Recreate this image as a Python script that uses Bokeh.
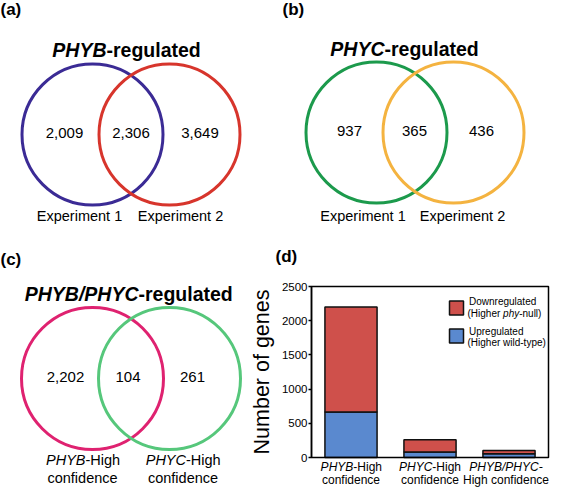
from bokeh.plotting import figure
from bokeh.models import Range1d, LinearAxis, FixedTicker, ColumnDataSource
from bokeh.core.properties import value
from bokeh.embed import file_html
from bokeh.resources import INLINE

FONT = "Liberation Sans"

# ---------------- data ----------------
venn_a_title = ["PHYB", "-regulated"]
venn_a_sets = ["Experiment 1", "Experiment 2"]
venn_a_counts = [2009, 2306, 3649]

venn_b_title = ["PHYC", "-regulated"]
venn_b_sets = ["Experiment 1", "Experiment 2"]
venn_b_counts = [937, 365, 436]

venn_c_title = ["PHYB/PHYC", "-regulated"]
venn_c_sets_gene = ["PHYB", "PHYC"]
venn_c_sets_rest = ["-High", "-High"]
venn_c_sets_line2 = ["confidence", "confidence"]
venn_c_counts = [2202, 104, 261]

bar_cat_gene = ["PHYB", "PHYC", "PHYB/PHYC-"]
bar_cat_rest = ["-High", "-High", ""]
bar_cat_line2 = ["confidence", "confidence", "High confidence"]
bar_up = [665, 80, 55]
bar_down = [1537, 181, 49]
y_ticks = [0, 500, 1000, 1500, 2000, 2500]
legend_line1 = ["Downregulated", "Upregulated"]
legend_line2 = [["(Higher ", "phy", "-null)"], ["(Higher wild-type)", "", ""]]

RED = "#cf504b"
BLUE = "#5a89cf"

# ---------------- canvas (picture pixel coordinates) ----------------
W, H = 550, 487
p = figure(width=W, height=H,
           x_range=Range1d(0, W), y_range=Range1d(H, 0),
           output_backend="svg", toolbar_location=None, title=None,
           x_axis_type=None, y_axis_type=None,
           min_border=0, outline_line_color=None)
p.grid.visible = False


def txt(x, y, s, size, style="normal", align="center", baseline="middle", **kw):
    p.text(x=[x], y=[y], text=[s], text_font=value(FONT), text_font_size=size,
           text_font_style=style, text_align=align, text_baseline=baseline,
           text_color="black", **kw)


def venn(cx, cy, r, colors, counts, title, split_x, title_y, num_dx):
    p.circle(x=[cx, cx + 77], y=[cy, cy], radius=r, fill_color=None,
             line_color=colors, line_width=3)
    for dxo, c in zip(num_dx, counts):
        txt(cx + dxo, cy - 2, f"{c:,}", "15px")
    txt(split_x, title_y, title[0], "19.5px", "bold italic", "right", "alphabetic")
    txt(split_x, title_y, title[1], "19.5px", "bold", "left", "alphabetic")


# ---- (a)
venn(92, 134, 70.5, ["#3b2b95", "#d7352c"], venn_a_counts, venn_a_title, 106, 49, [-28, 38.5, 107.5])
txt(79, 215, venn_a_sets[0], "14.5px")
txt(180, 215, venn_a_sets[1], "14.5px")
txt(0, -1, "(a)", "17px", "bold", "left", "top")

# ---- (b)
venn(376, 132, 70.5, ["#1c9a4c", "#f4b340"], venn_b_counts, venn_b_title, 384, 48, [-27, 38, 105])
txt(362.5, 215, venn_b_sets[0], "14.5px")
txt(462, 215, venn_b_sets[1], "14.5px")
txt(282, -1, "(b)", "17px", "bold", "left", "top")

# ---- (c)
venn(92, 378, 71, ["#df2270", "#56c77b"], venn_c_counts, venn_c_title, 138, 293, [-27, 35.5, 100])
for cxl, g, rest, l2 in zip([82, 182.5], venn_c_sets_gene, venn_c_sets_rest, venn_c_sets_line2):
    txt(cxl + 3, 459, g, "14.5px", "italic", "right")
    txt(cxl + 3, 459, rest, "14.5px", "normal", "left")
    txt(cxl, 477, l2, "14.5px")
txt(0, 249, "(c)", "17px", "bold", "left", "top")

# ---- (d) bar chart with its own scales
FX0, FX1, FY0, FY1 = 311, 548, 286, 457
ymax = y_ticks[-1]
ncat = len(bar_up)
kx = ncat / (FX1 - FX0)
ky = ymax / (FY1 - FY0)
p.extra_x_ranges = {"bx": Range1d((0 - FX0) * kx, (W - FX0) * kx)}
p.extra_y_ranges = {"by": Range1d(-(H - FY1) * ky, (FY1 - 0) * ky)}

xs = [i + 0.5 for i in range(ncat)]
src = ColumnDataSource(dict(x=xs, up=bar_up,
                            total=[u + d for u, d in zip(bar_up, bar_down)]))
p.vbar(x="x", bottom=0, top="up", width=0.66, source=src,
       fill_color=BLUE, line_color="#111111", line_width=1.5,
       x_range_name="bx", y_range_name="by")
p.vbar(x="x", bottom="up", top="total", width=0.66, source=src,
       fill_color=RED, line_color="#111111", line_width=1.5,
       x_range_name="bx", y_range_name="by")
# plot box
p.quad(left=[0], right=[ncat], bottom=[0], top=[ymax], fill_color=None,
       line_color="black", line_width=1.5, x_range_name="bx", y_range_name="by")

ax = LinearAxis(x_range_name="bx", y_range_name="by", fixed_location=0,
                bounds=(0, ymax), ticker=FixedTicker(ticks=y_ticks))
ax.minor_tick_line_color = None
ax.major_tick_in = 0
ax.major_tick_out = 3
ax.major_tick_line_width = 1.5
ax.axis_line_width = 1.5
ax.major_label_standoff = 1
ax.major_label_text_font = FONT
ax.major_label_text_font_size = "11.5px"
ax.major_label_text_color = "black"
ax.axis_label = "Number of genes"
ax.axis_label_text_font = FONT
ax.axis_label_text_font_size = "21.5px"
ax.axis_label_text_font_style = "normal"
ax.axis_label_text_color = "black"
ax.axis_label_standoff = 5
p.add_layout(ax, "left")

# legend
p.rect(x=[456, 456], y=[307.5, 335.5], width=14, height=14,
       width_units="screen", height_units="screen",
       fill_color=[RED, BLUE], line_color="#111111", line_width=1.5)
for ly, l1, l2 in zip([301, 330.5], legend_line1, legend_line2):
    txt(468.5, ly, l1, "10px", align="left")
    txt(467, ly + 11.5, l2[0], "10px", align="left")
    if l2[1]:
        txt(502.6, ly + 11.5, l2[1], "10px", "italic", align="left")
        txt(518.7, ly + 11.5, l2[2], "10px", align="left")

# category labels
for i, (g, rest, l2) in enumerate(zip(bar_cat_gene, bar_cat_rest, bar_cat_line2)):
    xoff = -3 if i == ncat - 1 else 0
    if rest:
        txt(xs[i], 466.5, g, "12px", "italic", "right", x_offset=2.3, x_range_name="bx")
        txt(xs[i], 466.5, rest, "12px", "normal", "left", x_offset=2.3, x_range_name="bx")
    else:
        txt(xs[i], 466.5, g, "12px", "italic", "center", x_offset=xoff, x_range_name="bx")
    txt(xs[i], 479.5, l2, "12px", x_offset=xoff, x_range_name="bx")

txt(275, 255.5, "(d)", "17px", "bold", "left")

open("out.html", "w").write(file_html(p, INLINE))
